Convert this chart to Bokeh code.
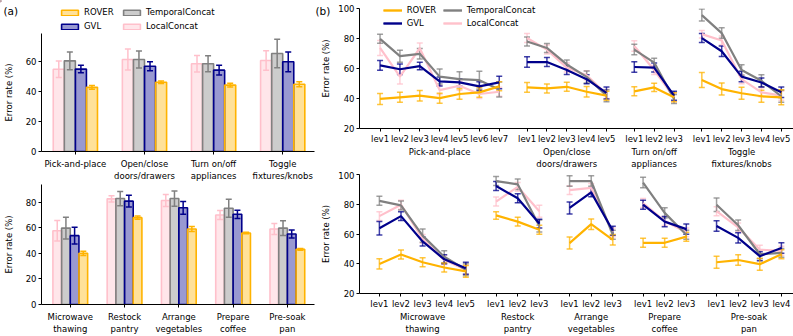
from bokeh.plotting import figure
from bokeh.layouts import column
from bokeh.models import (ColumnDataSource, Range1d, FixedTicker, LinearAxis, Whisker,
                          TeeHead, Legend, LegendItem, Label, GridBox)
from bokeh.embed import file_html
from bokeh.resources import INLINE

FONT = "DejaVu Sans"
FS = "8.5px"

METHODS = ["ROVER", "GVL", "TemporalConcat", "LocalConcat"]
COLORS = {"ROVER": "#FFB300", "GVL": "#00008B",
          "TemporalConcat": "#808080", "LocalConcat": "#FFC0CB"}

# ---------------- panel (a): overall error rate per task ----------------
a_top_tasks = ["Pick-and-place", "Open/close\ndoors/drawers",
               "Turn on/off\nappliances", "Toggle\nfixtures/knobs"]
a_top_rover = [42.9, 46.3, 44.4, 45.0]
a_top_rover_err = [1.2, 0.8, 1.3, 1.7]
a_top_gvl = [55.1, 57.0, 54.4, 60.0]
a_top_gvl_err = [2.5, 3.0, 3.3, 6.6]
a_top_temporal = [60.6, 61.5, 58.7, 65.5]
a_top_temporal_err = [6.0, 5.7, 5.4, 9.5]
a_top_local = [55.0, 61.5, 58.7, 60.8]
a_top_local_err = [5.5, 7.0, 5.5, 6.5]

a_bot_tasks = ["Microwave\nthawing", "Restock\npantry", "Arrange\nvegetables",
               "Prepare\ncoffee", "Pre-soak\npan"]
a_bot_rover = [40.0, 67.9, 59.0, 55.9, 43.1]
a_bot_rover_err = [1.7, 1.3, 2.0, 0.6, 0.7]
a_bot_gvl = [53.8, 80.8, 75.6, 70.5, 55.1]
a_bot_gvl_err = [6.5, 4.5, 5.0, 3.2, 3.2]
a_bot_temporal = [59.7, 82.8, 82.8, 75.2, 59.7]
a_bot_temporal_err = [8.5, 5.6, 6.0, 7.0, 5.8]
a_bot_local = [57.7, 82.6, 81.3, 70.0, 59.0]
a_bot_local_err = [8.0, 2.5, 4.6, 3.5, 4.3]

# ---------------- panel (b): error rate per level ----------------
b_top_tasks = a_top_tasks
b_top_levels = [7, 5, 3, 5]
b_top_rover = [39.7, 40.8, 41.9, 40.2, 43.0, 44.1, 48.1,
               47.4, 46.7, 47.8, 44.5, 41.9,
               44.8, 47.4, 40.8,
               52.4, 46.3, 43.5, 41.5, 40.8]
b_top_rover_err = [3.7, 3.3, 3.5, 3.3, 3.5, 3.3, 3.0,
                   3.2, 3.0, 3.0, 3.5, 3.0,
                   3.0, 2.8, 3.0,
                   5.0, 4.0, 4.0, 4.0, 5.0]
b_top_gvl = [62.1, 59.5, 61.6, 51.4, 50.7, 48.1, 50.7,
             64.3, 64.3, 59.0, 52.9, 43.7,
             61.0, 60.6, 41.9,
             80.3, 71.5, 54.6, 50.7, 44.1]
b_top_gvl_err = [3.3, 3.5, 2.5, 3.0, 2.5, 3.0, 4.2,
                 3.5, 3.0, 3.0, 3.0, 4.0,
                 3.5, 3.0, 3.0,
                 3.0, 3.5, 3.5, 3.0, 3.5]
b_top_temporal = [79.8, 68.2, 69.8, 54.6, 52.9, 52.2, 46.0,
                  78.0, 73.7, 62.7, 54.4, 41.9,
                  72.6, 63.9, 39.7,
                  95.6, 83.6, 59.0, 51.8, 41.5]
b_top_temporal_err = [3.0, 4.0, 3.5, 5.0, 5.0, 6.0, 5.0,
                      3.0, 3.0, 3.0, 4.0, 4.0,
                      3.5, 3.0, 3.0,
                      4.0, 3.5, 3.5, 4.0, 4.0]
b_top_local = [73.7, 54.6, 73.5, 45.6, 48.5, 43.0, 44.5,
               80.3, 72.6, 60.6, 55.5, 43.0,
               75.0, 59.0, 40.8,
               82.9, 78.7, 52.9, 44.1, 41.9]
b_top_local_err = [5.0, 5.0, 3.5, 3.0, 3.0, 3.0, 3.0,
                   3.0, 3.0, 3.0, 3.0, 3.0,
                   3.5, 3.0, 3.0,
                   2.5, 3.0, 3.0, 3.0, 3.0]

b_bot_tasks = a_bot_tasks
b_bot_levels = [5, 3, 3, 3, 4]
b_bot_rover = [39.9, 46.2, 41.0, 37.5, 34.9,
               72.5, 68.3, 62.8,
               53.9, 66.6, 56.1,
               54.1, 54.1, 58.2,
               41.0, 42.5, 39.7, 46.4]
b_bot_rover_err = [3.5, 3.0, 3.0, 3.0, 4.0,
                   2.5, 3.0, 3.0,
                   4.0, 3.5, 3.5,
                   3.0, 3.0, 3.0,
                   4.0, 3.5, 4.0, 3.0]
b_bot_gvl = [63.9, 72.0, 55.0, 43.0, 37.0,
             92.3, 84.0, 67.0,
             77.5, 88.0, 62.2,
             79.7, 68.3, 63.3,
             65.4, 57.4, 45.1, 50.6]
b_bot_gvl_err = [4.5, 3.0, 3.0, 3.0, 4.0,
                 3.0, 3.0, 3.0,
                 4.0, 3.0, 3.0,
                 3.0, 3.5, 3.5,
                 3.5, 3.5, 3.0, 3.5]
b_bot_temporal = [82.3, 79.2, 58.9, 44.7, 36.0,
                  95.6, 93.4, 65.4,
                  95.6, 95.6, 59.5,
                  94.6, 74.2, 59.5,
                  79.7, 65.9, 46.4, 47.3]
b_bot_temporal_err = [3.0, 3.0, 4.5, 4.0, 4.0,
                      3.0, 3.5, 4.0,
                      3.5, 3.5, 3.0,
                      3.5, 3.5, 3.0,
                      4.5, 3.5, 3.0, 3.0]
b_bot_local = [72.0, 79.7, 56.7, 42.5, 36.0,
               81.8, 91.7, 75.3,
               89.5, 91.0, 61.1,
               80.8, 68.7, 61.1,
               75.3, 64.4, 49.5, 48.7]
b_bot_local_err = [3.0, 3.0, 3.0, 3.0, 3.0,
                   3.0, 3.0, 4.0,
                   3.0, 3.0, 3.0,
                   3.0, 3.0, 3.0,
                   3.0, 3.0, 3.0, 3.0]

# ---------------- styling helpers ----------------
BAR_ORDER = ["LocalConcat", "TemporalConcat", "GVL", "ROVER"]
BAR_OFFSETS = [-0.24, -0.08, 0.08, 0.24]
BAR_W = 0.16
GROUP_GAP = 1.4
PAGE_W, PAGE_H = 793, 336


def style_axis(ax):
    ax.axis_line_color = "black"
    ax.axis_line_width = 1
    ax.major_tick_line_color = "black"
    ax.major_tick_line_width = 1
    ax.major_tick_out = 3
    ax.major_tick_in = 0
    ax.minor_tick_line_color = None
    ax.major_label_text_font = FONT
    ax.major_label_text_font_size = FS
    ax.major_label_text_color = "black"
    ax.major_label_standoff = 2
    ax.axis_label_text_font = FONT
    ax.axis_label_text_font_size = FS
    ax.axis_label_text_font_style = "normal"
    ax.axis_label_text_color = "black"


def make_fig(width, height, xr, yr, borders, yticks, label_standoff):
    l, r, t, b = borders
    p = figure(width=width, height=height, x_range=Range1d(*xr), y_range=Range1d(*yr),
               output_backend="svg", toolbar_location=None,
               min_border_left=l, min_border_right=r, min_border_top=t, min_border_bottom=b)
    p.xgrid.visible = False
    p.ygrid.visible = False
    p.outline_line_color = None
    p.background_fill_color = "white"
    p.border_fill_color = "white"
    for ax in list(p.xaxis) + list(p.yaxis):
        style_axis(ax)
    p.yaxis.ticker = FixedTicker(ticks=yticks)
    p.yaxis.axis_label = "Error rate (%)"
    p.yaxis.axis_label_standoff = label_standoff
    return p


def bar_panel(tasks, means, errs, width, height, xr, yr, borders, yticks):
    p = make_fig(width, height, xr, yr, borders, yticks, 9)
    centers = list(range(len(tasks)))
    p.xaxis.ticker = FixedTicker(ticks=centers)
    p.xaxis.major_label_overrides = {c: t for c, t in zip(centers, tasks)}
    p.xaxis.major_label_standoff = 4
    for off, m in zip(BAR_OFFSETS, BAR_ORDER):
        col = COLORS[m]
        xs = [c + off for c in centers]
        src = ColumnDataSource(dict(
            x=xs, top=means[m],
            upper=[v + e for v, e in zip(means[m], errs[m])],
            lower=[v - e for v, e in zip(means[m], errs[m])]))
        p.vbar(x="x", top="top", bottom=0, width=BAR_W, source=src,
               fill_color=col, fill_alpha=0.4, line_color=col, line_width=1.6)
        w = Whisker(source=src, base="x", upper="upper", lower="lower",
                    line_color=col, line_width=1.5, level="annotation",
                    upper_head=TeeHead(size=6, line_color=col, line_width=1.5),
                    lower_head=TeeHead(size=6, line_color=col, line_width=1.5))
        p.add_layout(w)
    return p


def positions(levels):
    groups = []
    start = 0.0
    for n in levels:
        groups.append([start + i for i in range(n)])
        start = start + (n - 1) + GROUP_GAP
    return groups


def line_panel(tasks, levels, vals, errs, width, height, xr, yr, borders, yticks):
    p = make_fig(width, height, xr, yr, borders, yticks, 4)
    groups = positions(levels)
    allx = [x for g in groups for x in g]
    labels = [f"lev{i + 1}" for n in levels for i in range(n)]
    p.xaxis.ticker = FixedTicker(ticks=allx)
    p.xaxis.major_label_overrides = {x: s for x, s in zip(allx, labels)}
    p.xaxis.major_label_standoff = 2
    centers = [sum(g) / len(g) for g in groups]
    gax = LinearAxis(ticker=FixedTicker(ticks=centers),
                     major_label_overrides={c: t for c, t in zip(centers, tasks)})
    style_axis(gax)
    gax.axis_line_color = None
    gax.major_tick_line_color = None
    gax.major_tick_out = 0
    gax.major_label_standoff = 0
    p.add_layout(gax, "below")
    for m in ["LocalConcat", "TemporalConcat", "GVL", "ROVER"]:
        col = COLORS[m]
        v = vals[m]
        e = errs[m]
        src = ColumnDataSource(dict(x=allx,
                                    upper=[a + b for a, b in zip(v, e)],
                                    lower=[a - b for a, b in zip(v, e)]))
        w = Whisker(source=src, base="x", upper="upper", lower="lower",
                    line_color=col, line_width=1.5, line_alpha=0.75,
                    upper_head=TeeHead(size=6, line_color=col, line_width=1.5, line_alpha=0.75),
                    lower_head=TeeHead(size=6, line_color=col, line_width=1.5, line_alpha=0.75))
        p.add_layout(w)
        idx = 0
        for g in groups:
            n = len(g)
            p.line(g, v[idx:idx + n], line_color=col, line_width=2.2)
            idx += n
    return p


def legend_style(leg, gw, gh, lw, lh, standoff):
    leg.glyph_width = gw
    leg.glyph_height = gh
    leg.label_width = lw
    leg.label_height = lh
    leg.label_standoff = standoff
    leg.label_text_font = FONT
    leg.label_text_font_size = FS
    leg.label_text_color = "black"
    leg.spacing = 3
    leg.padding = 0
    leg.margin = 0
    leg.border_line_color = None
    leg.background_fill_alpha = 0
    leg.ncols = 2


# ---------------- build panels ----------------
a_top = bar_panel(
    a_top_tasks,
    {"ROVER": a_top_rover, "GVL": a_top_gvl, "TemporalConcat": a_top_temporal, "LocalConcat": a_top_local},
    {"ROVER": a_top_rover_err, "GVL": a_top_gvl_err, "TemporalConcat": a_top_temporal_err, "LocalConcat": a_top_local_err},
    318, 183, (-0.49, 3.46), (0, 78.9), (40, 4, 33, 27), [0, 20, 40, 60])
a_bot = bar_panel(
    a_bot_tasks,
    {"ROVER": a_bot_rover, "GVL": a_bot_gvl, "TemporalConcat": a_bot_temporal, "LocalConcat": a_bot_local},
    {"ROVER": a_bot_rover_err, "GVL": a_bot_gvl_err, "TemporalConcat": a_bot_temporal_err, "LocalConcat": a_bot_local_err},
    318, 153, (-0.53, 4.5), (0, 93.8), (40, 4, 1, 31), [0, 20, 40, 60, 80])

b_top = line_panel(
    b_top_tasks, b_top_levels,
    {"ROVER": b_top_rover, "GVL": b_top_gvl, "TemporalConcat": b_top_temporal, "LocalConcat": b_top_local},
    {"ROVER": b_top_rover_err, "GVL": b_top_gvl_err, "TemporalConcat": b_top_temporal_err, "LocalConcat": b_top_local_err},
    475, 171, (-1.035, 20.815), (20, 100), (38, 0, 8, 41), [20, 40, 60, 80, 100])
b_bot = line_panel(
    b_bot_tasks, b_bot_levels,
    {"ROVER": b_bot_rover, "GVL": b_bot_gvl, "TemporalConcat": b_bot_temporal, "LocalConcat": b_bot_local},
    {"ROVER": b_bot_rover_err, "GVL": b_bot_gvl_err, "TemporalConcat": b_bot_temporal_err, "LocalConcat": b_bot_local_err},
    475, 165, (-0.92, 19.16), (20, 100), (38, 0, 3, 41), [20, 40, 60, 80, 100])

# ---------------- transparent overlay for legends and panel letters ----------------
ov = figure(width=PAGE_W, height=PAGE_H, x_range=Range1d(0, PAGE_W), y_range=Range1d(PAGE_H, 0),
            output_backend="svg", toolbar_location=None, x_axis_type=None, y_axis_type=None,
            min_border=0, min_border_left=0, min_border_right=0, min_border_top=0,
            min_border_bottom=0)
ov.xgrid.visible = False
ov.ygrid.visible = False
ov.outline_line_color = None
ov.background_fill_alpha = 0
ov.border_fill_alpha = 0

# legend-key glyphs: one off-canvas sample each, only their styling is shown in the legends
KEY_X = [-60.0, -50.0]
KEY_Y = [1.0, 1.0]
bar_keys = {}
line_keys = {}
for m in METHODS:
    col = COLORS[m]
    bar_keys[m] = ov.vbar(x=KEY_X[:1], top=KEY_Y[:1], bottom=0, width=1, fill_color=col,
                          fill_alpha=0.4, line_color=col, line_width=1.6)
    ln = ov.line(x=KEY_X, y=KEY_Y, line_color=col, line_width=2.2)
    vs = ov.vspan(x=KEY_X[:1], line_color=col, line_width=1.6, line_alpha=0.8)
    line_keys[m] = [ln, vs]

leg_a = Legend(items=[LegendItem(label=m, renderers=[bar_keys[m]]) for m in METHODS],
               location=(59, PAGE_H - 31.5))
legend_style(leg_a, 21, 7, 34, 11, 4)
ov.add_layout(leg_a, "center")

leg_b = Legend(items=[LegendItem(label=m, renderers=line_keys[m]) for m in METHODS],
               location=(382.7, PAGE_H - 27.5))
legend_style(leg_b, 19, 8, 33, 10, 5)
ov.add_layout(leg_b, "center")

ov.add_layout(Label(x=3, y=10, text="(a)", text_font=FONT, text_font_size="10.5px",
                    text_baseline="middle", text_color="black"))
ov.add_layout(Label(x=315, y=10, text="(b)", text_font=FONT, text_font_size="10.5px",
                    text_baseline="middle", text_color="black"))

layout = GridBox(children=[(column(a_top, a_bot), 0, 0),
                           (column(b_top, b_bot), 0, 1),
                           (ov, 0, 0, 1, 2)])
open("out.html", "w").write(file_html(layout, INLINE))
